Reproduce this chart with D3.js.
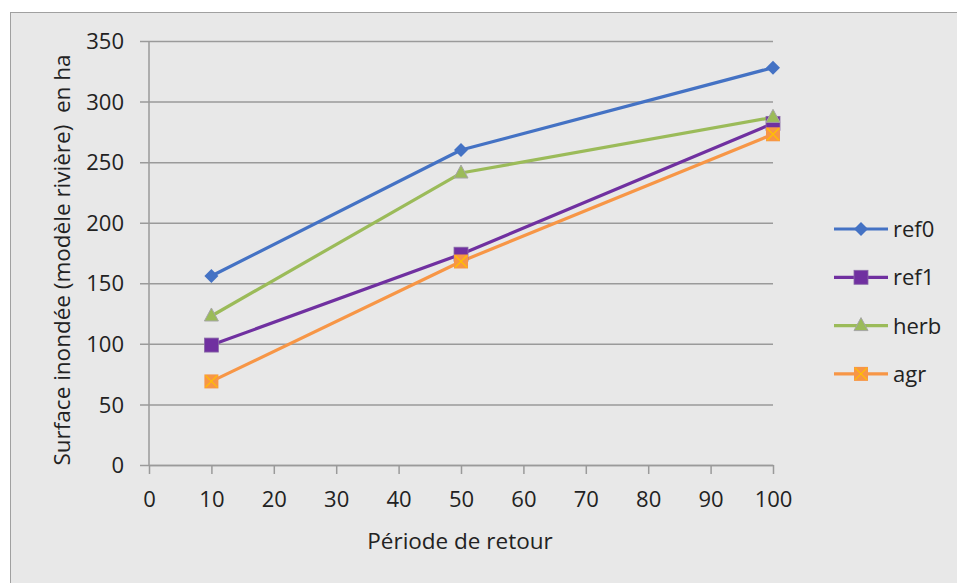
<!DOCTYPE html>
<html>
<head>
<meta charset="utf-8">
<script src="https://cdn.jsdelivr.net/npm/d3@7"></script>
<style>
  body { margin: 0; background: #fff; overflow: hidden; }
  text { font-family: "Open Sans", sans-serif; fill: #222; }
</style>
</head>
<body>
<script>
// Surface inondée par période de retour

const periods = [10, 50, 100];
const ref0 = [156, 260, 328];
const ref1 = [99, 174, 282];
const herb = [123, 241, 287];
const agr = [69, 168, 273];

const xTicks = [0, 10, 20, 30, 40, 50, 60, 70, 80, 90, 100];
const yTicks = [0, 50, 100, 150, 200, 250, 300, 350];

const series = [
  {name: "ref0", values: ref0, color: "#4472C4", marker: "diamond"},
  {name: "ref1", values: ref1, color: "#7030A0", marker: "square"},
  {name: "herb", values: herb, color: "#9BBB59", marker: "triangle"},
  {name: "agr",  values: agr,  color: "#F79646", marker: "cross"}
];

const outerWidth = 957;
const outerHeight = 583;
const margin = {top: 41, right: 184, bottom: 118, left: 149};
const innerWidth = outerWidth - margin.left - margin.right;
const innerHeight = outerHeight - margin.top - margin.bottom;

const svg = d3.select("body").append("svg")
    .attr("width", outerWidth)
    .attr("height", outerHeight);

svg.append("rect")
    .attr("x", 10.5).attr("y", 12.5)
    .attr("width", outerWidth - 10).attr("height", outerHeight - 12)
    .attr("fill", "#e8e8e8")
    .attr("stroke", "#a0a0a0");

const g = svg.append("g")
    .attr("transform", "translate(" + margin.left + "," + margin.top + ")");

const x = d3.scaleLinear().domain([0, 100]).range([0, innerWidth]);
const y = d3.scaleLinear().domain([0, 350]).range([innerHeight, 0]);

// gridlines + y axis
const yAxis = g.append("g")
    .attr("transform", "translate(-9,0)")
    .call(d3.axisLeft(y).tickValues(yTicks).tickSize(-innerWidth - 9).tickSizeOuter(0));
yAxis.select(".domain").remove();
yAxis.selectAll(".tick line").attr("stroke", "#9a9a9a").attr("stroke-width", 1.5);
yAxis.selectAll(".tick text")
    .attr("font-size", 22).attr("font-family", "Open Sans").attr("fill", "#222")
    .attr("x", -16).attr("dy", "0.35em");

g.append("line")
    .attr("x1", 0).attr("x2", 0).attr("y1", 0).attr("y2", innerHeight)
    .attr("stroke", "#9a9a9a").attr("stroke-width", 1.5);

const xAxis = g.append("g")
    .attr("transform", "translate(0," + innerHeight + ")")
    .call(d3.axisBottom(x).tickValues(xTicks).tickSize(9).tickPadding(17).tickSizeOuter(0));
xAxis.select(".domain").attr("stroke", "#9a9a9a").attr("stroke-width", 1.5);
xAxis.selectAll(".tick line").attr("stroke", "#9a9a9a").attr("stroke-width", 1.5);
xAxis.selectAll(".tick text").attr("font-size", 22).attr("font-family", "Open Sans").attr("fill", "#222");

// axis titles
svg.append("text")
    .attr("x", 460).attr("y", 549)
    .attr("text-anchor", "middle")
    .attr("font-size", 22.5)
    .text("Période de retour");

svg.append("text")
    .attr("transform", "translate(70,260) rotate(-90)")
    .attr("text-anchor", "middle")
    .attr("font-size", 22.5)
    .attr("xml:space", "preserve")
    .text("Surface inondée (modèle rivière)  en ha");

const line = d3.line()
    .x((d, i) => x(periods[i]))
    .y(d => y(d));

function drawMarker(sel, s, cx, cy) {
  if (s.marker === "diamond") {
    sel.append("path")
      .attr("d", "M" + cx + "," + (cy - 7) + "L" + (cx + 7) + "," + cy + "L" + cx + "," + (cy + 7) + "L" + (cx - 7) + "," + cy + "Z")
      .attr("fill", s.color);
  } else if (s.marker === "square") {
    sel.append("rect")
      .attr("x", cx - 7).attr("y", cy - 7).attr("width", 14).attr("height", 14)
      .attr("fill", s.color).attr("stroke", "#8a6aa8").attr("stroke-width", 0.8);
  } else if (s.marker === "triangle") {
    sel.append("path")
      .attr("d", "M" + cx + "," + (cy - 8) + "L" + (cx + 7) + "," + (cy + 5) + "L" + (cx - 7) + "," + (cy + 5) + "Z")
      .attr("fill", "#9BBB59").attr("stroke", "#a5a5a5").attr("stroke-width", 1);
  } else if (s.marker === "cross") {
    sel.append("rect")
      .attr("x", cx - 7).attr("y", cy - 7).attr("width", 14).attr("height", 14)
      .attr("fill", s.color);
    sel.append("path")
      .attr("d", "M" + (cx - 6) + "," + (cy - 6) + "L" + (cx + 6) + "," + (cy + 6) +
                 "M" + (cx + 6) + "," + (cy - 6) + "L" + (cx - 6) + "," + (cy + 6))
      .attr("stroke", "#FFC000").attr("stroke-width", 1.2);
  }
}

series.forEach(s => {
  g.append("path")
    .datum(s.values)
    .attr("d", line)
    .attr("fill", "none")
    .attr("stroke", s.color)
    .attr("stroke-width", 3.2)
    .attr("stroke-linejoin", "round");
});

series.forEach(s => {
  const mg = g.append("g");
  s.values.forEach((v, i) => drawMarker(mg, s, x(periods[i]), y(v)));
});

// legend
const legend = svg.append("g");
series.forEach((s, i) => {
  const ly = 229 + i * 48.3;
  legend.append("line")
    .attr("x1", 834).attr("x2", 888).attr("y1", ly).attr("y2", ly)
    .attr("stroke", s.color).attr("stroke-width", 3.2);
  drawMarker(legend, s, 861, ly);
  legend.append("text")
    .attr("x", 893).attr("y", ly + 8)
    .attr("font-size", 22)
    .text(s.name);
});
</script>
</body>
</html>
